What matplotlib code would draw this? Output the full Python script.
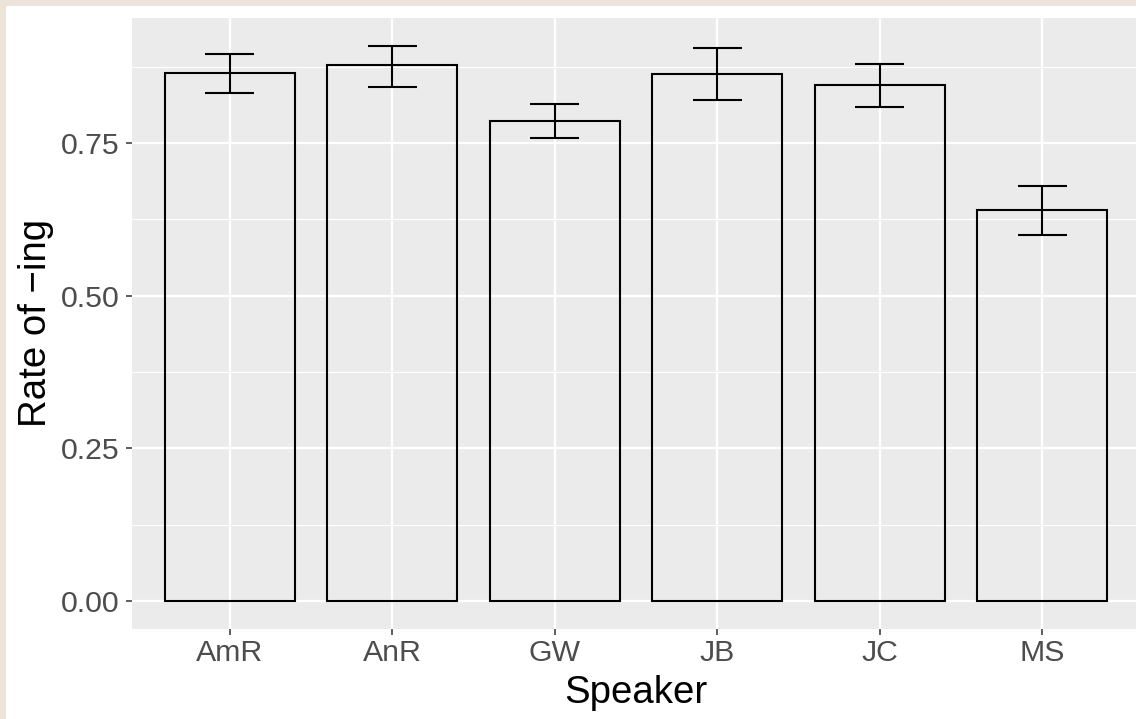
import matplotlib
matplotlib.use("Agg")
import matplotlib.pyplot as plt
from matplotlib.patches import Rectangle
import numpy as np

speakers = ["AmR", "AnR", "GW", "JB", "JC", "MS"]
rate = [0.864, 0.877, 0.786, 0.863, 0.844, 0.640]
upper = [0.896, 0.909, 0.813, 0.905, 0.879, 0.680]
lower = [0.831, 0.842, 0.758, 0.820, 0.809, 0.599]
yticks = [0.00, 0.25, 0.50, 0.75]
ytick_labels = ["0.00", "0.25", "0.50", "0.75"]

W, H = 1136, 719
plt.rcParams['font.family'] = ['Liberation Sans', 'DejaVu Sans']
fig = plt.figure(figsize=(W / 100, H / 100), dpi=100)
fig.patch.set_facecolor("#ECE3DA")
fig.patches.append(Rectangle((6 / W, 0), 1, (H - 6) / H, transform=fig.transFigure,
                             facecolor="white", edgecolor="none", zorder=-10))

left, right, top, bottom = 132, 1140, 18, 628.8
ax = fig.add_axes([left / W, (H - bottom) / H, (right - left) / W, (bottom - top) / H])
ax.set_zorder(1)
ax.set_facecolor("#EBEBEB")
for s in ax.spines.values():
    s.set_visible(False)

x = np.arange(1, len(speakers) + 1)
M = max(upper)
ax.set_xlim(0.4, len(speakers) + 0.6)
ax.set_ylim(-0.05 * M, 1.05 * M)

ax.bar(x, rate, width=0.8, facecolor="none", edgecolor="black", linewidth=1.5, zorder=3)
r = np.array(rate)
ax.errorbar(x, r, yerr=[r - np.array(lower), np.array(upper) - r], fmt="none",
            ecolor="black", elinewidth=1.5, capsize=0, zorder=4)
# caps of width 0.3
ax.hlines(upper, x - 0.15, x + 0.15, colors="black", linewidth=1.5, zorder=4)
ax.hlines(lower, x - 0.15, x + 0.15, colors="black", linewidth=1.5, zorder=4)

ax.set_xticks(x)
ax.set_xticklabels(speakers)
ax.set_yticks(yticks)
ax.set_yticklabels(ytick_labels)
ax.set_yticks([0.125, 0.375, 0.625, 0.875], minor=True)
ax.grid(which="major", color="white", linewidth=1.6, zorder=1)
ax.grid(which="minor", axis="y", color="white", linewidth=0.8, zorder=1)
ax.set_axisbelow(True)
ax.tick_params(axis="both", which="major", length=4, width=1.1, color="#333333",
               labelcolor="#4D4D4D", labelsize=21.8)
ax.tick_params(axis="x", pad=3)
ax.tick_params(axis="y", pad=5)
ax.tick_params(which="minor", length=0)

fig.text(636 / W, (H - 702.7) / H, "Speaker", ha="center", va="baseline",
         fontsize=27.6, color="black")
fig.text(36 / W, (H - 323) / H, "Rate of \u2212ing", ha="center", va="center",
         rotation=90, fontsize=27.6, color="black")

fig.savefig("out.png", dpi=100, facecolor=fig.get_facecolor())
